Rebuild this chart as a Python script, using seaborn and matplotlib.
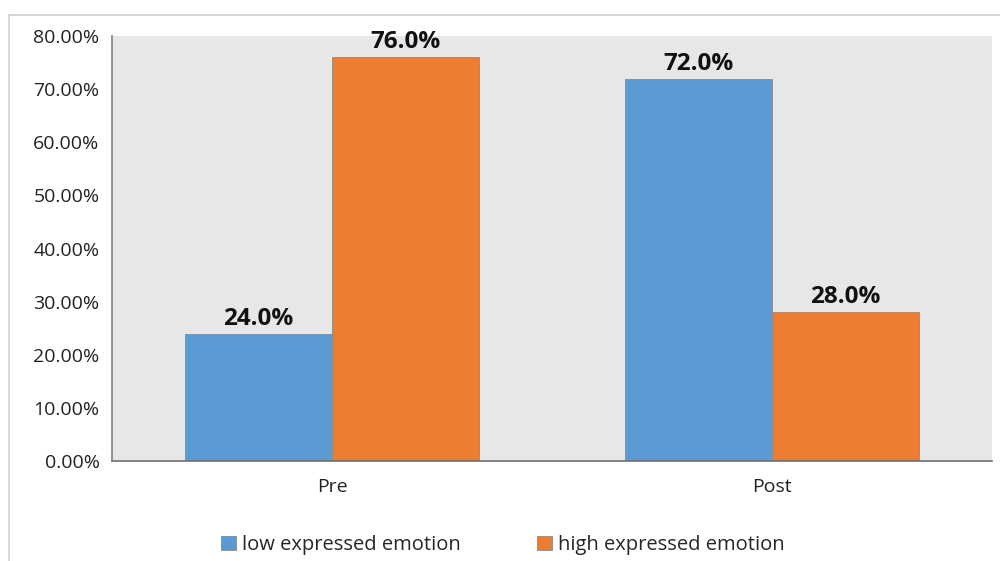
import matplotlib
matplotlib.use("Agg")
import matplotlib.pyplot as plt
from matplotlib.lines import Line2D
from matplotlib.ticker import FuncFormatter
import seaborn as sns
import pandas as pd

phases = ["Pre", "Post"]
groups = ["low expressed emotion", "high expressed emotion"]
low_values = [24.0, 72.0]
high_values = [76.0, 28.0]
y_ticks = [0, 10, 20, 30, 40, 50, 60, 70, 80]
colors = ["#5B9BD5", "#ED7D31"]

df = pd.DataFrame({
    "phase": phases * 2,
    "group": [groups[0]] * 2 + [groups[1]] * 2,
    "value": low_values + high_values,
})

sns.set_theme(style="white")
plt.rcParams["font.family"] = ["Open Sans", "DejaVu Sans"]

fig = plt.figure(figsize=(10, 5.61), dpi=100)
ax = fig.add_axes([0.112, 1 - 461 / 561, 0.880, (461 - 36) / 561])
ax.set_facecolor("#E7E7E7")

sns.barplot(data=df, x="phase", y="value", hue="group", order=phases,
            hue_order=groups, palette=colors, width=0.668, gap=0,
            saturation=1, ax=ax, edgecolor="#8a8a8a", linewidth=0.6)

ax.set_ylim(0, 80)
ax.set_xlim(-0.5, 1.5)
ax.set_yticks(y_ticks)
ax.yaxis.set_major_formatter(FuncFormatter(lambda v, _: f"{v:.2f}%"))
ax.set_xlabel("")
ax.set_ylabel("")
ax.tick_params(axis="both", length=0, labelsize=14, colors="#222222")
ax.tick_params(axis="x", pad=12)
ax.tick_params(axis="y", pad=9)

for side in ["top", "right"]:
    ax.spines[side].set_visible(False)
ax.spines["left"].set_color("#7f7f7f")
ax.spines["left"].set_linewidth(1.2)
ax.spines["bottom"].set_color("#6f6f6f")
ax.spines["bottom"].set_linewidth(1.2)

for container in ax.containers:
    ax.bar_label(container, labels=[f"{b.get_height():.1f}%" for b in container],
                 padding=2, fontsize=17.5, fontweight="bold", color="#111111")

handles, labels = ax.get_legend_handles_labels()
ax.legend(handles, labels, loc="center", bbox_to_anchor=(0.503, 1 - 545 / 561),
          bbox_transform=fig.transFigure,
          ncol=2, frameon=False, fontsize=14.5, handlelength=0.75,
          handleheight=0.75, handletextpad=0.3, columnspacing=3.8)

fig.add_artist(Line2D([8.5 / 1000, 1], [1 - 14.5 / 561, 1 - 14.5 / 561],
                      transform=fig.transFigure, color="#d0d0d0", linewidth=1.2))
fig.add_artist(Line2D([8.5 / 1000, 8.5 / 1000], [0, 1 - 14.5 / 561],
                      transform=fig.transFigure, color="#d0d0d0", linewidth=1.2))

fig.savefig("out.png", dpi=100, facecolor="white")
